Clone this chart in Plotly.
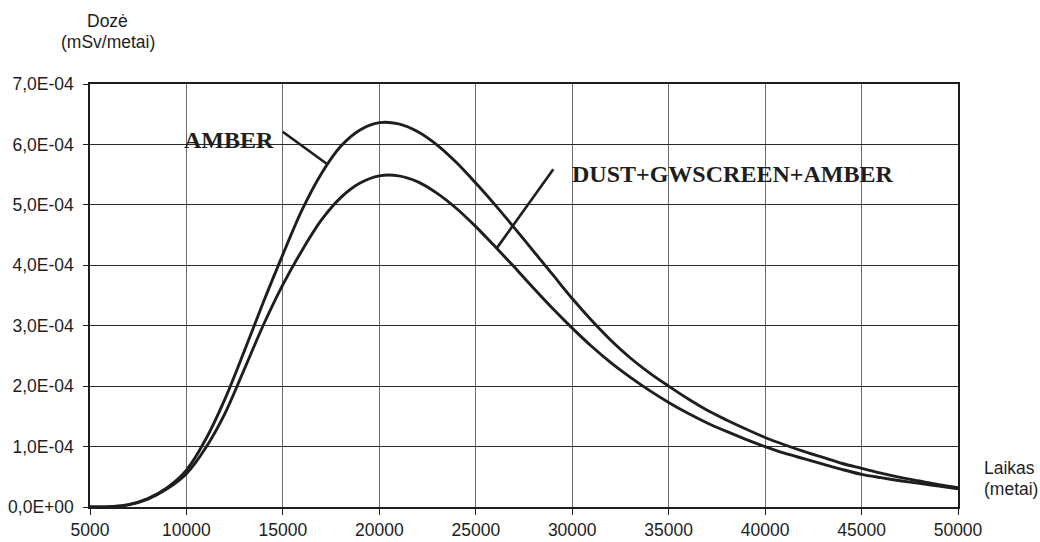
import plotly.graph_objects as go

# ---- data ----
years = [5000, 6000, 7000, 8000, 9000, 10000, 11000, 12000, 13000, 14000,
         15000, 16000, 17000, 18000, 19000, 20000, 21000, 22000, 23000, 24000,
         25000, 26000, 27000, 28000, 29000, 30000, 31000, 32000, 33000, 34000,
         35000, 36000, 37000, 38000, 39000, 40000, 41000, 42000, 43000, 44000,
         45000, 46000, 47000, 48000, 49000, 50000]

amber = [0.00, 0.005, 0.04, 0.14, 0.32, 0.61, 1.12, 1.79, 2.58, 3.40,
         4.18, 4.92, 5.52, 5.97, 6.24, 6.36, 6.34, 6.21, 5.99, 5.70,
         5.36, 5.00, 4.62, 4.23, 3.84, 3.45, 3.09, 2.76, 2.47, 2.22,
         2.00, 1.79, 1.60, 1.44, 1.29, 1.15, 1.03, 0.92, 0.82, 0.72,
         0.64, 0.56, 0.49, 0.43, 0.37, 0.32]

dust = [0.00, 0.005, 0.035, 0.13, 0.30, 0.55, 0.98, 1.55, 2.28, 3.02,
        3.68, 4.25, 4.75, 5.12, 5.36, 5.48, 5.48, 5.38, 5.19, 4.94,
        4.64, 4.31, 3.97, 3.62, 3.28, 2.96, 2.66, 2.39, 2.15, 1.93,
        1.73, 1.55, 1.39, 1.25, 1.12, 1.00, 0.89, 0.80, 0.71, 0.62,
        0.54, 0.485, 0.435, 0.39, 0.345, 0.30]

scale = 1e-4
amber_vals = [v * scale for v in amber]
dust_vals = [v * scale for v in dust]

x_ticks = [5000, 10000, 15000, 20000, 25000, 30000, 35000, 40000, 45000, 50000]
x_ticktext = [str(v) for v in x_ticks]
y_ticks = [0, 1e-4, 2e-4, 3e-4, 4e-4, 5e-4, 6e-4, 7e-4]
y_ticktext = ["0,0E+00", "1,0E-04", "2,0E-04", "3,0E-04", "4,0E-04",
              "5,0E-04", "6,0E-04", "7,0E-04"]

series_names = ["AMBER", "DUST+GWSCREEN+AMBER"]

# leader lines for series labels: (x0, y0, x1, y1) in data units
amber_leader = [14990, 6.21e-4, 17270, 5.68e-4]
dust_leader = [29020, 5.59e-4, 26080, 4.28e-4]

SANS = "Liberation Sans, Arial, sans-serif"
SERIF = "Liberation Serif, Times New Roman, serif"
INK = "#1e1e1e"

fig = go.Figure()
fig.add_trace(go.Scatter(x=years, y=amber_vals, mode="lines", name=series_names[0],
                         line=dict(color=INK, width=2.9, shape="spline", smoothing=0.9)))
fig.add_trace(go.Scatter(x=years, y=dust_vals, mode="lines", name=series_names[1],
                         line=dict(color=INK, width=2.9, shape="spline", smoothing=0.9)))

for ld in (amber_leader, dust_leader):
    fig.add_shape(type="line", xref="x", yref="y", x0=ld[0], y0=ld[1], x1=ld[2], y1=ld[3],
                  line=dict(color=INK, width=2.6))

fig.add_annotation(x=12190, y=6.07e-4, xref="x", yref="y", text="<b>AMBER</b>",
                   showarrow=False, xanchor="center", yanchor="middle",
                   font=dict(family=SERIF, size=24, color=INK))
fig.add_annotation(x=38315, y=5.51e-4, xref="x", yref="y", text="<b>DUST+GWSCREEN+AMBER</b>",
                   showarrow=False, xanchor="center", yanchor="middle",
                   font=dict(family=SERIF, size=24, color=INK))

# axis titles
fig.add_annotation(x=0.0207, y=1.149, xref="paper", yref="paper", text="Dozė",
                   xanchor="center", yanchor="middle",
                   showarrow=False, font=dict(family=SANS, size=17.5, color=INK))
fig.add_annotation(x=0.0207, y=1.0993, xref="paper", yref="paper", text="(mSv/metai)",
                   xanchor="center", yanchor="middle",
                   showarrow=False, font=dict(family=SANS, size=17.5, color=INK))
fig.add_annotation(x=1.0276, y=0.092, xref="paper", yref="paper", text="Laikas",
                   xanchor="left", yanchor="middle",
                   showarrow=False, font=dict(family=SANS, size=17.5, color=INK))
fig.add_annotation(x=1.0276, y=0.042, xref="paper", yref="paper", text="(metai)",
                   xanchor="left", yanchor="middle",
                   showarrow=False, font=dict(family=SANS, size=17.5, color=INK))

fig.update_layout(
    width=1040, height=542,
    margin=dict(l=90, r=82, t=84, b=35, autoexpand=False),
    paper_bgcolor="white", plot_bgcolor="white",
    showlegend=False,
    font=dict(family=SANS, size=17.5, color=INK),
)
fig.update_xaxes(range=[5000, 50000], tickvals=x_ticks, ticktext=x_ticktext,
                 automargin=False,
                 showgrid=True, gridcolor="#6e6e6e", gridwidth=1,
                 showline=True, linecolor=INK, linewidth=1.5, mirror=True,
                 ticks="outside", ticklen=6, tickcolor=INK, tickwidth=1,
                 zeroline=False, tickfont=dict(family=SANS, size=17.5, color=INK))
fig.update_yaxes(range=[0, 7e-4], tickvals=y_ticks, ticktext=y_ticktext,
                 automargin=False,
                 showgrid=True, gridcolor="#2a2a2a", gridwidth=1,
                 showline=True, linecolor=INK, linewidth=1.5, mirror=True,
                 ticks="outside", ticklen=5, tickcolor=INK, tickwidth=1,
                 ticklabelstandoff=6,
                 zeroline=False, tickfont=dict(family=SANS, size=17.5, color=INK))

fig.write_html("out.html")
